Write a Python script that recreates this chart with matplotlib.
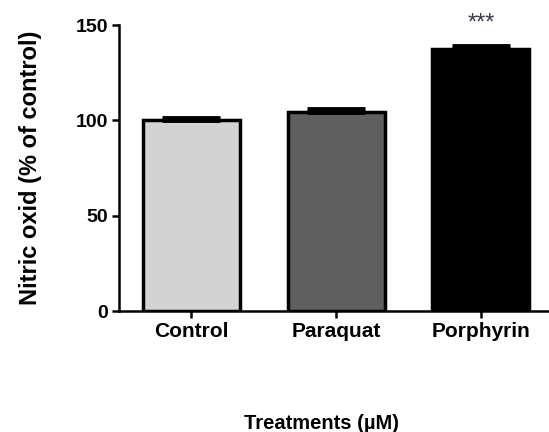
import matplotlib.pyplot as plt
import numpy as np

plt.rcParams['font.family'] = ['Liberation Sans', 'DejaVu Sans']

# Nitric oxide levels per treatment
treatments = ['Control', 'Paraquat', 'Porphyrin']
means = [100.0, 104.5, 137.6]
sem = [1.5, 1.6, 1.6]
colors = ['#d3d3d3', '#5f5f5f', '#000000']
signif = ['', '', '***']

fig = plt.figure(figsize=(5.49, 4.32), dpi=100)
ax = fig.add_axes([0.2168, 0.280, 0.7832, 0.662])

x = np.arange(len(treatments))
ax.bar(x, means, width=0.67, color=colors, edgecolor='black', linewidth=2.5, zorder=2)
ax.errorbar(x, means, yerr=[np.zeros(len(sem)), sem], fmt='none', ecolor='black',
            elinewidth=2.5, capsize=21, capthick=3.5, zorder=3)

for xi, lab in zip(x, signif):
    if lab:
        ax.text(xi, 151.0, lab, ha='center', va='center', fontsize=17,
                color='#363a45', clip_on=False)

ax.set_xlim(-0.5, 2.47)
ax.set_ylim(0, 150)
ax.set_yticks([0, 50, 100, 150])
ax.set_xticks(x)
ax.set_xticklabels(treatments, fontsize=15, fontweight='bold')
for t in ax.get_yticklabels():
    t.set_fontsize(14)
    t.set_fontweight('bold')

ax.spines['top'].set_visible(False)
ax.spines['right'].set_visible(False)
ax.spines['left'].set_linewidth(1.8)
ax.spines['bottom'].set_linewidth(1.8)
ax.tick_params(axis='both', width=1.8, length=5, pad=3)

ax.set_ylabel('Nitric oxid (% of control)', fontsize=17, fontweight='bold', labelpad=24)
ax.set_xlabel('Treatments (µM)', fontsize=14.5, fontweight='bold', labelpad=52.5)
ax.xaxis.label.set_x(0.472)

fig.savefig('out.png', dpi=100)
